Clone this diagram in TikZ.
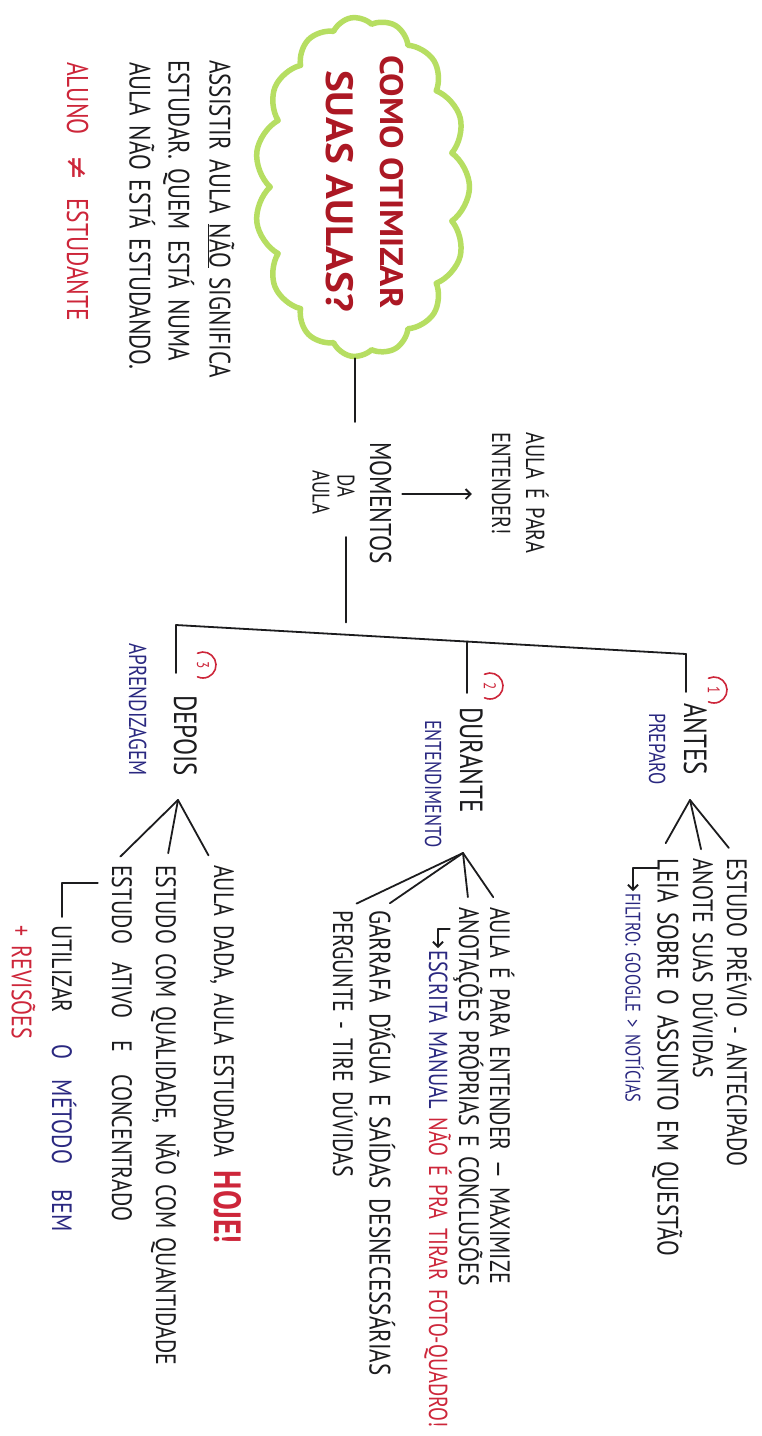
\documentclass[tikz,border=0pt]{standalone}
\usepackage{fontspec}
\setmainfont{PT Sans}[FakeStretch=0.78, WordSpace=1.6]
\newfontfamily\titlefam{PT Sans}[FakeStretch=1.08]
\newfontfamily\symfam{DejaVu Sans}
\usetikzlibrary{shapes.symbols, arrows.meta}

\definecolor{ink}{RGB}{28,28,30}
\definecolor{titlered}{RGB}{172,24,36}
\definecolor{penred}{RGB}{205,38,58}
\definecolor{penblue}{RGB}{42,40,128}
\definecolor{marker}{RGB}{182,222,98}

\begin{document}
\begin{tikzpicture}[x=1pt, y=-1pt, line cap=round, line join=round,
  hw/.style={rotate=-90, anchor=west, inner sep=0pt, text=ink, text depth=0pt},
  body/.style={hw, font=\fontsize{28}{32}\selectfont, text height=20pt},
  wide/.style={hw, font=\fontsize{29.5}{33}\selectfont, text height=21pt},
  head/.style={hw, font=\fontsize{32}{36}\selectfont, text height=22pt},
  mid/.style={hw, font=\fontsize{26}{30}\selectfont, text height=18pt},
  tiny/.style={hw, font=\fontsize{24}{28}\selectfont, text height=17pt},
  label/.style={hw, font=\fontsize{23}{26}\selectfont, text height=16pt, text=penblue},
  titletxt/.style={hw, text=titlered, text height=24pt},
  cloudbox/.style={cloud, cloud puffs=15, cloud puff arc=110, cloud ignores aspect,
    rotate=-90, minimum width=340pt, minimum height=215pt, inner sep=0pt,
    draw=marker, line width=5.5pt},
  stroke/.style={draw=ink, line width=1.8pt},
  tip/.style={-{Straight Barb[length=5pt,width=10pt]}},
  numtxt/.style={rotate=-90, inner sep=0pt, text=penred, font=\fontsize{17}{17}\selectfont},
  numarc/.style={draw=penred, line width=1.6pt}]

\useasboundingbox[fill=white] (0,0) rectangle (761,1436);

% ---- title cloud ----
\node[cloudbox] (title) at (362,187) {};
\node[titletxt, font=\titlefam\bfseries\fontsize{32.5}{33}\selectfont] (t1) at (392,55) {COMO OTIMIZAR};
\node[titletxt, font=\titlefam\bfseries\fontsize{38}{38}\selectfont] (t2) at (338,70) {SUAS AULAS?};

% ---- side note ----
\node[wide] (note1) at (220,60) {ASSISTIR AULA \underline{NÃO} SIGNIFICA};
\node[wide] (note2) at (179,60) {ESTUDAR. QUEM ESTÁ NUMA};
\node[wide] (note3) at (140,62) {AULA NÃO ESTÁ ESTUDANDO.};
\node[body, text=penred, font=\fontsize{30}{34}\selectfont] (aluno) at (77,62)
  {ALUNO\hspace{20pt}{\symfam ≠}\hspace{18pt}ESTUDANTE};

% ---- moments of the class ----
\node[hw, font=\fontsize{30}{34}\selectfont, text height=22pt] (mom1) at (381,442) {MOMENTOS};
\node[tiny] (mom2) at (346,474) {DA};
\node[tiny] (mom3) at (321,470) {AULA};
\node[mid] (ent1) at (535,432) {AULA É PARA};
\node[mid] (ent2) at (501,432) {ENTENDER!};

% ---- the three stages ----
\node[head] (antes) at (695,703) {ANTES};
\node[label] (prep) at (657,713) {PREPARO};
\node[head] (durante) at (471,707) {DURANTE};
\node[label] (entend) at (433,720) {ENTENDIMENTO};
\node[head] (depois) at (185,695) {DEPOIS};
\node[label, font=\fontsize{24.5}{27}\selectfont] (aprend) at (137,643) {APRENDIZAGEM};

\node[numtxt] (n1) at (714,690) {1};
\node[numtxt] (n2) at (490,686) {2};
\node[numtxt] (n3) at (203,665) {3};
\draw[numarc] (n1.center) ++(-115:13) arc[start angle=-115, end angle=115, radius=13];
\draw[numarc] (n2.center) ++(-115:13) arc[start angle=-115, end angle=115, radius=13];
\draw[numarc] (n3.center) ++(-115:13) arc[start angle=-115, end angle=115, radius=13];

% ---- before ----
\node[body] (estudo) at (737,858) {ESTUDO PRÉVIO - ANTECIPADO};
\node[body] (anote) at (703,858) {ANOTE SUAS DÚVIDAS};
\node[wide] (leia) at (668,858) {LEIA SOBRE O ASSUNTO EM QUESTÃO};
\node[label, font=\fontsize{21}{24}\selectfont, text height=15pt] (filtro) at (633,893) {FILTRO: GOOGLE > NOTÍCIAS};

% ---- during ----
\node[body] (aulaent) at (500,907) {AULA É PARA ENTENDER — MAXIMIZE};
\node[body] (anot) at (469,907) {ANOTAÇÕES PRÓPRIAS E CONCLUSÕES};
\node[mid] (escrita) at (438,950)
  {{\color{penblue}ESCRITA MANUAL} {\color{penred}NÃO É PRA TIRAR FOTO-QUADRO!}};
\node[wide] (garrafa) at (380,910) {GARRAFA D'ÁGUA E SAÍDAS DESNECESSÁRIAS};
\node[body] (pergunte) at (343,910) {PERGUNTE - TIRE DÚVIDAS};

% ---- after ----
\node[body] (dada) at (224,865)
  {AULA DADA, AULA ESTUDADA\hspace{14pt}{\color{penred}\bfseries\fontsize{38}{38}\selectfont HOJE!}};
\node[body] (qual) at (166,865) {ESTUDO COM QUALIDADE, NÃO COM QUANTIDADE};
\node[body] (ativo) at (122,865)
  {ESTUDO\hspace{18pt}ATIVO\hspace{22pt}E\hspace{22pt}CONCENTRADO};
\node[body] (utilizar) at (62,925)
  {UTILIZAR\hspace{32pt}{\color{penblue}O\hspace{20pt}MÉTODO\hspace{26pt}BEM}};
\node[body, text=penred] (revisoes) at (22,925) {+ REVISÕES};

% ---- connectors ----
\coordinate (barL) at (176,625);
\coordinate (barR) at (686,654);
\coordinate (barD) at (467,641.5);
\coordinate (barM) at (346,634.5);
\coordinate (fA) at (690,800);
\coordinate (fD) at (463,853);
\coordinate (fP) at (178,800);

\draw[stroke, shorten >=20pt] ([xshift=-7pt]title.east) -- ([xshift=-7pt]title.east |- mom1.west);
\draw[stroke, tip, shorten <=10pt, shorten >=20pt]
  ([yshift=9pt]mom1.north) -- ([yshift=9pt]mom1.north -| ent2.south);
\draw[stroke, shorten <=40pt, shorten >=12pt] (mom2.east) -- (mom2.east |- barM);
\draw[stroke] (barL) -- (barR);
\draw[stroke, shorten >=11pt] (barR) -- (barR |- antes.west);
\draw[stroke, shorten >=14pt] (barD) -- (barD |- durante.west);
\draw[stroke, shorten >=22pt] (barL) -- (barL |- depois.west);

\draw[stroke, shorten >=13pt] (fA) -- (estudo.west);
\draw[stroke, shorten >=9pt] (fA) -- (anote.west);
\draw[stroke, shorten >=17pt] (fA) -- (leia.south west);
\draw[stroke, tip, shorten >=2pt] ([yshift=-10pt]leia.south west) -| (filtro.west);

\draw[stroke, shorten >=12pt] (fD) -- (aulaent.west);
\draw[stroke, shorten >=10pt] (fD) -- (anot.west);
\draw[stroke, shorten >=12pt] (fD) -- (garrafa.west);
\draw[stroke, shorten >=15pt] (fD) -- (pergunte.west);
\draw[stroke, tip, shorten >=2pt] ([xshift=-9pt,yshift=-22pt]anot.south west) -| (escrita.west);

\draw[stroke, shorten >=11pt] (fP) -- (dada.south west);
\draw[stroke, shorten >=12pt] (fP) -- (qual.west);
\draw[stroke, shorten >=12pt] (fP) -- (ativo.south west);
\draw[stroke, shorten >=8pt] ([xshift=-14pt,yshift=-18pt]ativo.south west) -| (utilizar.west);
\end{tikzpicture}
\end{document}
